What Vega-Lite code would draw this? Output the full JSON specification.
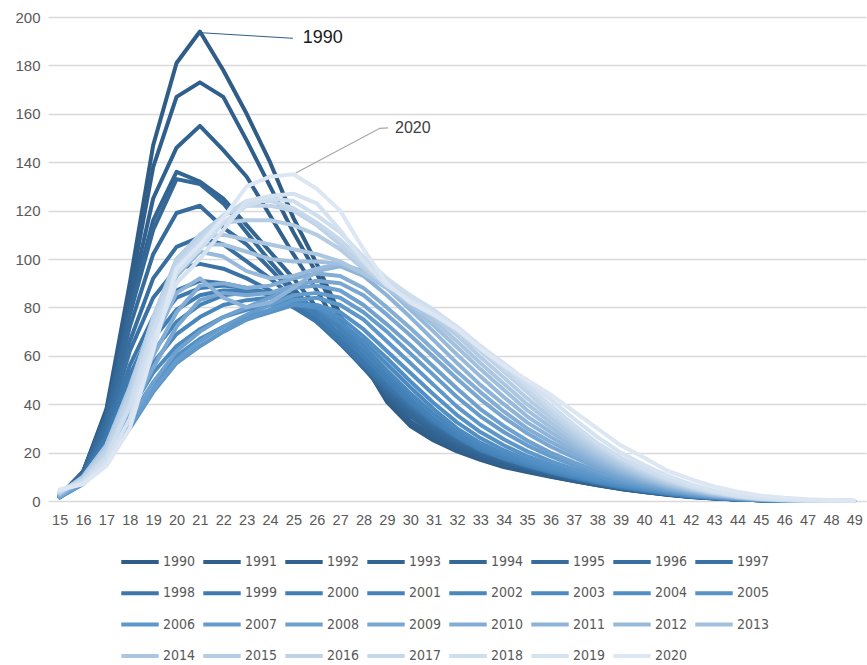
{
"$schema": "https://vega.github.io/schema/vega-lite/v6.json",
"width": 818,
"height": 484,
"autosize": {"type": "none"},
"padding": {"left": 48, "top": 17, "right": 1, "bottom": 164},
"background": "white",
"config": {"view": {"stroke": null}, "font": "Liberation Sans"},
"layer": [
{
"data": {"values": [
{"yr":1990,"age":15,"v":2},{"yr":1990,"age":16,"v":12},{"yr":1990,"age":17,"v":38},{"yr":1990,"age":18,"v":90},{"yr":1990,"age":19,"v":147},{"yr":1990,"age":20,"v":181},{"yr":1990,"age":21,"v":194},{"yr":1990,"age":22,"v":178},{"yr":1990,"age":23,"v":160},{"yr":1990,"age":24,"v":140},{"yr":1990,"age":25,"v":117},{"yr":1990,"age":26,"v":98},{"yr":1990,"age":27,"v":77},{"yr":1990,"age":28,"v":57},{"yr":1990,"age":29,"v":41},{"yr":1990,"age":30,"v":31},{"yr":1990,"age":31,"v":25},{"yr":1990,"age":32,"v":20.5},{"yr":1990,"age":33,"v":17},{"yr":1990,"age":34,"v":14},{"yr":1990,"age":35,"v":12},{"yr":1990,"age":36,"v":10},{"yr":1990,"age":37,"v":8.2},{"yr":1990,"age":38,"v":6.5},{"yr":1990,"age":39,"v":5},{"yr":1990,"age":40,"v":3.7},{"yr":1990,"age":41,"v":2.6},{"yr":1990,"age":42,"v":1.7},{"yr":1990,"age":43,"v":1.05},{"yr":1990,"age":44,"v":0.6},{"yr":1990,"age":45,"v":0.33},{"yr":1990,"age":46,"v":0.17},{"yr":1990,"age":47,"v":0.09},{"yr":1990,"age":48,"v":0.04},{"yr":1990,"age":49,"v":0.02},
{"yr":1991,"age":15,"v":2},{"yr":1991,"age":16,"v":12},{"yr":1991,"age":17,"v":37},{"yr":1991,"age":18,"v":86},{"yr":1991,"age":19,"v":138},{"yr":1991,"age":20,"v":167},{"yr":1991,"age":21,"v":173},{"yr":1991,"age":22,"v":167},{"yr":1991,"age":23,"v":149},{"yr":1991,"age":24,"v":130},{"yr":1991,"age":25,"v":111},{"yr":1991,"age":26,"v":94},{"yr":1991,"age":27,"v":75},{"yr":1991,"age":28,"v":57},{"yr":1991,"age":29,"v":42},{"yr":1991,"age":30,"v":32},{"yr":1991,"age":31,"v":26},{"yr":1991,"age":32,"v":21},{"yr":1991,"age":33,"v":17.5},{"yr":1991,"age":34,"v":14.5},{"yr":1991,"age":35,"v":12.3},{"yr":1991,"age":36,"v":10.2},{"yr":1991,"age":37,"v":8.3},{"yr":1991,"age":38,"v":6.6},{"yr":1991,"age":39,"v":5},{"yr":1991,"age":40,"v":3.7},{"yr":1991,"age":41,"v":2.6},{"yr":1991,"age":42,"v":1.7},{"yr":1991,"age":43,"v":1.05},{"yr":1991,"age":44,"v":0.6},{"yr":1991,"age":45,"v":0.33},{"yr":1991,"age":46,"v":0.17},{"yr":1991,"age":47,"v":0.09},{"yr":1991,"age":48,"v":0.04},{"yr":1991,"age":49,"v":0.02},
{"yr":1992,"age":15,"v":2},{"yr":1992,"age":16,"v":12},{"yr":1992,"age":17,"v":36},{"yr":1992,"age":18,"v":82},{"yr":1992,"age":19,"v":125},{"yr":1992,"age":20,"v":146},{"yr":1992,"age":21,"v":155},{"yr":1992,"age":22,"v":145},{"yr":1992,"age":23,"v":134},{"yr":1992,"age":24,"v":118},{"yr":1992,"age":25,"v":102},{"yr":1992,"age":26,"v":87},{"yr":1992,"age":27,"v":71},{"yr":1992,"age":28,"v":56},{"yr":1992,"age":29,"v":43},{"yr":1992,"age":30,"v":33},{"yr":1992,"age":31,"v":27},{"yr":1992,"age":32,"v":22},{"yr":1992,"age":33,"v":18},{"yr":1992,"age":34,"v":15},{"yr":1992,"age":35,"v":12.6},{"yr":1992,"age":36,"v":10.4},{"yr":1992,"age":37,"v":8.5},{"yr":1992,"age":38,"v":6.7},{"yr":1992,"age":39,"v":5.1},{"yr":1992,"age":40,"v":3.8},{"yr":1992,"age":41,"v":2.7},{"yr":1992,"age":42,"v":1.8},{"yr":1992,"age":43,"v":1.1},{"yr":1992,"age":44,"v":0.62},{"yr":1992,"age":45,"v":0.34},{"yr":1992,"age":46,"v":0.18},{"yr":1992,"age":47,"v":0.09},{"yr":1992,"age":48,"v":0.04},{"yr":1992,"age":49,"v":0.02},
{"yr":1993,"age":15,"v":2},{"yr":1993,"age":16,"v":12},{"yr":1993,"age":17,"v":35},{"yr":1993,"age":18,"v":79},{"yr":1993,"age":19,"v":116},{"yr":1993,"age":20,"v":136},{"yr":1993,"age":21,"v":132},{"yr":1993,"age":22,"v":125},{"yr":1993,"age":23,"v":114},{"yr":1993,"age":24,"v":103},{"yr":1993,"age":25,"v":92},{"yr":1993,"age":26,"v":80},{"yr":1993,"age":27,"v":67},{"yr":1993,"age":28,"v":55},{"yr":1993,"age":29,"v":44},{"yr":1993,"age":30,"v":35},{"yr":1993,"age":31,"v":28.5},{"yr":1993,"age":32,"v":23},{"yr":1993,"age":33,"v":19},{"yr":1993,"age":34,"v":16},{"yr":1993,"age":35,"v":13.3},{"yr":1993,"age":36,"v":11},{"yr":1993,"age":37,"v":8.9},{"yr":1993,"age":38,"v":7},{"yr":1993,"age":39,"v":5.3},{"yr":1993,"age":40,"v":3.9},{"yr":1993,"age":41,"v":2.8},{"yr":1993,"age":42,"v":1.8},{"yr":1993,"age":43,"v":1.1},{"yr":1993,"age":44,"v":0.63},{"yr":1993,"age":45,"v":0.34},{"yr":1993,"age":46,"v":0.18},{"yr":1993,"age":47,"v":0.09},{"yr":1993,"age":48,"v":0.04},{"yr":1993,"age":49,"v":0.02},
{"yr":1994,"age":15,"v":2},{"yr":1994,"age":16,"v":12},{"yr":1994,"age":17,"v":35},{"yr":1994,"age":18,"v":77},{"yr":1994,"age":19,"v":112},{"yr":1994,"age":20,"v":133},{"yr":1994,"age":21,"v":131},{"yr":1994,"age":22,"v":123},{"yr":1994,"age":23,"v":111},{"yr":1994,"age":24,"v":99},{"yr":1994,"age":25,"v":88},{"yr":1994,"age":26,"v":77},{"yr":1994,"age":27,"v":66},{"yr":1994,"age":28,"v":55},{"yr":1994,"age":29,"v":45},{"yr":1994,"age":30,"v":36},{"yr":1994,"age":31,"v":29.5},{"yr":1994,"age":32,"v":24},{"yr":1994,"age":33,"v":19.8},{"yr":1994,"age":34,"v":16.5},{"yr":1994,"age":35,"v":13.7},{"yr":1994,"age":36,"v":11.3},{"yr":1994,"age":37,"v":9.1},{"yr":1994,"age":38,"v":7.1},{"yr":1994,"age":39,"v":5.4},{"yr":1994,"age":40,"v":4},{"yr":1994,"age":41,"v":2.8},{"yr":1994,"age":42,"v":1.9},{"yr":1994,"age":43,"v":1.15},{"yr":1994,"age":44,"v":0.65},{"yr":1994,"age":45,"v":0.35},{"yr":1994,"age":46,"v":0.18},{"yr":1994,"age":47,"v":0.09},{"yr":1994,"age":48,"v":0.04},{"yr":1994,"age":49,"v":0.02},
{"yr":1995,"age":15,"v":2},{"yr":1995,"age":16,"v":11.5},{"yr":1995,"age":17,"v":33},{"yr":1995,"age":18,"v":72},{"yr":1995,"age":19,"v":102},{"yr":1995,"age":20,"v":119},{"yr":1995,"age":21,"v":122},{"yr":1995,"age":22,"v":113},{"yr":1995,"age":23,"v":106},{"yr":1995,"age":24,"v":96},{"yr":1995,"age":25,"v":86},{"yr":1995,"age":26,"v":76},{"yr":1995,"age":27,"v":65},{"yr":1995,"age":28,"v":55},{"yr":1995,"age":29,"v":46},{"yr":1995,"age":30,"v":37.5},{"yr":1995,"age":31,"v":30.5},{"yr":1995,"age":32,"v":24.8},{"yr":1995,"age":33,"v":20.5},{"yr":1995,"age":34,"v":17},{"yr":1995,"age":35,"v":14},{"yr":1995,"age":36,"v":11.5},{"yr":1995,"age":37,"v":9.3},{"yr":1995,"age":38,"v":7.2},{"yr":1995,"age":39,"v":5.5},{"yr":1995,"age":40,"v":4.1},{"yr":1995,"age":41,"v":2.9},{"yr":1995,"age":42,"v":1.9},{"yr":1995,"age":43,"v":1.15},{"yr":1995,"age":44,"v":0.65},{"yr":1995,"age":45,"v":0.35},{"yr":1995,"age":46,"v":0.18},{"yr":1995,"age":47,"v":0.09},{"yr":1995,"age":48,"v":0.04},{"yr":1995,"age":49,"v":0.02},
{"yr":1996,"age":15,"v":2},{"yr":1996,"age":16,"v":11},{"yr":1996,"age":17,"v":31},{"yr":1996,"age":18,"v":66},{"yr":1996,"age":19,"v":92},{"yr":1996,"age":20,"v":105},{"yr":1996,"age":21,"v":109},{"yr":1996,"age":22,"v":106},{"yr":1996,"age":23,"v":99},{"yr":1996,"age":24,"v":92},{"yr":1996,"age":25,"v":84},{"yr":1996,"age":26,"v":75},{"yr":1996,"age":27,"v":66},{"yr":1996,"age":28,"v":56},{"yr":1996,"age":29,"v":47},{"yr":1996,"age":30,"v":38.5},{"yr":1996,"age":31,"v":31.5},{"yr":1996,"age":32,"v":25.5},{"yr":1996,"age":33,"v":21},{"yr":1996,"age":34,"v":17.5},{"yr":1996,"age":35,"v":14.5},{"yr":1996,"age":36,"v":12},{"yr":1996,"age":37,"v":9.5},{"yr":1996,"age":38,"v":7.4},{"yr":1996,"age":39,"v":5.6},{"yr":1996,"age":40,"v":4.1},{"yr":1996,"age":41,"v":2.9},{"yr":1996,"age":42,"v":1.9},{"yr":1996,"age":43,"v":1.2},{"yr":1996,"age":44,"v":0.66},{"yr":1996,"age":45,"v":0.36},{"yr":1996,"age":46,"v":0.18},{"yr":1996,"age":47,"v":0.09},{"yr":1996,"age":48,"v":0.04},{"yr":1996,"age":49,"v":0.02},
{"yr":1997,"age":15,"v":2},{"yr":1997,"age":16,"v":11},{"yr":1997,"age":17,"v":29},{"yr":1997,"age":18,"v":62},{"yr":1997,"age":19,"v":84},{"yr":1997,"age":20,"v":96},{"yr":1997,"age":21,"v":98},{"yr":1997,"age":22,"v":96},{"yr":1997,"age":23,"v":92},{"yr":1997,"age":24,"v":87},{"yr":1997,"age":25,"v":81},{"yr":1997,"age":26,"v":74},{"yr":1997,"age":27,"v":65},{"yr":1997,"age":28,"v":56},{"yr":1997,"age":29,"v":47},{"yr":1997,"age":30,"v":39},{"yr":1997,"age":31,"v":32},{"yr":1997,"age":32,"v":26},{"yr":1997,"age":33,"v":21.3},{"yr":1997,"age":34,"v":17.8},{"yr":1997,"age":35,"v":14.8},{"yr":1997,"age":36,"v":12.2},{"yr":1997,"age":37,"v":9.7},{"yr":1997,"age":38,"v":7.5},{"yr":1997,"age":39,"v":5.7},{"yr":1997,"age":40,"v":4.2},{"yr":1997,"age":41,"v":3},{"yr":1997,"age":42,"v":2},{"yr":1997,"age":43,"v":1.2},{"yr":1997,"age":44,"v":0.68},{"yr":1997,"age":45,"v":0.37},{"yr":1997,"age":46,"v":0.19},{"yr":1997,"age":47,"v":0.1},{"yr":1997,"age":48,"v":0.05},{"yr":1997,"age":49,"v":0.02},
{"yr":1998,"age":15,"v":1.8},{"yr":1998,"age":16,"v":10.5},{"yr":1998,"age":17,"v":27},{"yr":1998,"age":18,"v":56},{"yr":1998,"age":19,"v":76},{"yr":1998,"age":20,"v":87},{"yr":1998,"age":21,"v":91},{"yr":1998,"age":22,"v":90},{"yr":1998,"age":23,"v":88},{"yr":1998,"age":24,"v":85},{"yr":1998,"age":25,"v":80},{"yr":1998,"age":26,"v":74},{"yr":1998,"age":27,"v":66},{"yr":1998,"age":28,"v":57},{"yr":1998,"age":29,"v":48.5},{"yr":1998,"age":30,"v":40},{"yr":1998,"age":31,"v":32.5},{"yr":1998,"age":32,"v":26.5},{"yr":1998,"age":33,"v":21.5},{"yr":1998,"age":34,"v":17.8},{"yr":1998,"age":35,"v":14.8},{"yr":1998,"age":36,"v":12.2},{"yr":1998,"age":37,"v":9.7},{"yr":1998,"age":38,"v":7.5},{"yr":1998,"age":39,"v":5.7},{"yr":1998,"age":40,"v":4.2},{"yr":1998,"age":41,"v":3},{"yr":1998,"age":42,"v":2},{"yr":1998,"age":43,"v":1.2},{"yr":1998,"age":44,"v":0.68},{"yr":1998,"age":45,"v":0.37},{"yr":1998,"age":46,"v":0.19},{"yr":1998,"age":47,"v":0.1},{"yr":1998,"age":48,"v":0.05},{"yr":1998,"age":49,"v":0.02},
{"yr":1999,"age":15,"v":1.8},{"yr":1999,"age":16,"v":10},{"yr":1999,"age":17,"v":26},{"yr":1999,"age":18,"v":52},{"yr":1999,"age":19,"v":72},{"yr":1999,"age":20,"v":84},{"yr":1999,"age":21,"v":88},{"yr":1999,"age":22,"v":89},{"yr":1999,"age":23,"v":88},{"yr":1999,"age":24,"v":86},{"yr":1999,"age":25,"v":82},{"yr":1999,"age":26,"v":76},{"yr":1999,"age":27,"v":68},{"yr":1999,"age":28,"v":59},{"yr":1999,"age":29,"v":49.5},{"yr":1999,"age":30,"v":40.5},{"yr":1999,"age":31,"v":33},{"yr":1999,"age":32,"v":26.5},{"yr":1999,"age":33,"v":21.3},{"yr":1999,"age":34,"v":17.6},{"yr":1999,"age":35,"v":14.6},{"yr":1999,"age":36,"v":12},{"yr":1999,"age":37,"v":9.6},{"yr":1999,"age":38,"v":7.5},{"yr":1999,"age":39,"v":5.7},{"yr":1999,"age":40,"v":4.2},{"yr":1999,"age":41,"v":3},{"yr":1999,"age":42,"v":2},{"yr":1999,"age":43,"v":1.2},{"yr":1999,"age":44,"v":0.68},{"yr":1999,"age":45,"v":0.37},{"yr":1999,"age":46,"v":0.19},{"yr":1999,"age":47,"v":0.1},{"yr":1999,"age":48,"v":0.05},{"yr":1999,"age":49,"v":0.02},
{"yr":2000,"age":15,"v":1.7},{"yr":2000,"age":16,"v":9.5},{"yr":2000,"age":17,"v":24},{"yr":2000,"age":18,"v":48},{"yr":2000,"age":19,"v":67},{"yr":2000,"age":20,"v":79},{"yr":2000,"age":21,"v":85},{"yr":2000,"age":22,"v":87},{"yr":2000,"age":23,"v":87},{"yr":2000,"age":24,"v":86},{"yr":2000,"age":25,"v":83},{"yr":2000,"age":26,"v":77},{"yr":2000,"age":27,"v":69},{"yr":2000,"age":28,"v":60},{"yr":2000,"age":29,"v":50},{"yr":2000,"age":30,"v":41},{"yr":2000,"age":31,"v":33},{"yr":2000,"age":32,"v":26.5},{"yr":2000,"age":33,"v":21},{"yr":2000,"age":34,"v":17.5},{"yr":2000,"age":35,"v":14.5},{"yr":2000,"age":36,"v":12},{"yr":2000,"age":37,"v":9.7},{"yr":2000,"age":38,"v":7.7},{"yr":2000,"age":39,"v":5.9},{"yr":2000,"age":40,"v":4.4},{"yr":2000,"age":41,"v":3.1},{"yr":2000,"age":42,"v":2.1},{"yr":2000,"age":43,"v":1.3},{"yr":2000,"age":44,"v":0.75},{"yr":2000,"age":45,"v":0.4},{"yr":2000,"age":46,"v":0.2},{"yr":2000,"age":47,"v":0.1},{"yr":2000,"age":48,"v":0.05},{"yr":2000,"age":49,"v":0.03},
{"yr":2001,"age":15,"v":1.6},{"yr":2001,"age":16,"v":9},{"yr":2001,"age":17,"v":22},{"yr":2001,"age":18,"v":44},{"yr":2001,"age":19,"v":62},{"yr":2001,"age":20,"v":74},{"yr":2001,"age":21,"v":81},{"yr":2001,"age":22,"v":85},{"yr":2001,"age":23,"v":86},{"yr":2001,"age":24,"v":86},{"yr":2001,"age":25,"v":84},{"yr":2001,"age":26,"v":79},{"yr":2001,"age":27,"v":71},{"yr":2001,"age":28,"v":62},{"yr":2001,"age":29,"v":52},{"yr":2001,"age":30,"v":42.5},{"yr":2001,"age":31,"v":34},{"yr":2001,"age":32,"v":27},{"yr":2001,"age":33,"v":21.5},{"yr":2001,"age":34,"v":17.8},{"yr":2001,"age":35,"v":14.8},{"yr":2001,"age":36,"v":12.2},{"yr":2001,"age":37,"v":9.9},{"yr":2001,"age":38,"v":7.8},{"yr":2001,"age":39,"v":6},{"yr":2001,"age":40,"v":4.5},{"yr":2001,"age":41,"v":3.2},{"yr":2001,"age":42,"v":2.1},{"yr":2001,"age":43,"v":1.3},{"yr":2001,"age":44,"v":0.75},{"yr":2001,"age":45,"v":0.4},{"yr":2001,"age":46,"v":0.2},{"yr":2001,"age":47,"v":0.1},{"yr":2001,"age":48,"v":0.05},{"yr":2001,"age":49,"v":0.03},
{"yr":2002,"age":15,"v":1.6},{"yr":2002,"age":16,"v":8.5},{"yr":2002,"age":17,"v":20},{"yr":2002,"age":18,"v":40},{"yr":2002,"age":19,"v":57},{"yr":2002,"age":20,"v":69},{"yr":2002,"age":21,"v":76},{"yr":2002,"age":22,"v":81},{"yr":2002,"age":23,"v":83},{"yr":2002,"age":24,"v":84},{"yr":2002,"age":25,"v":84},{"yr":2002,"age":26,"v":80},{"yr":2002,"age":27,"v":73},{"yr":2002,"age":28,"v":64},{"yr":2002,"age":29,"v":54},{"yr":2002,"age":30,"v":44.5},{"yr":2002,"age":31,"v":36},{"yr":2002,"age":32,"v":28.5},{"yr":2002,"age":33,"v":22.5},{"yr":2002,"age":34,"v":18.5},{"yr":2002,"age":35,"v":15.3},{"yr":2002,"age":36,"v":12.6},{"yr":2002,"age":37,"v":10.2},{"yr":2002,"age":38,"v":8},{"yr":2002,"age":39,"v":6.2},{"yr":2002,"age":40,"v":4.6},{"yr":2002,"age":41,"v":3.3},{"yr":2002,"age":42,"v":2.2},{"yr":2002,"age":43,"v":1.35},{"yr":2002,"age":44,"v":0.76},{"yr":2002,"age":45,"v":0.4},{"yr":2002,"age":46,"v":0.2},{"yr":2002,"age":47,"v":0.1},{"yr":2002,"age":48,"v":0.05},{"yr":2002,"age":49,"v":0.03},
{"yr":2003,"age":15,"v":1.5},{"yr":2003,"age":16,"v":8},{"yr":2003,"age":17,"v":19},{"yr":2003,"age":18,"v":37},{"yr":2003,"age":19,"v":53},{"yr":2003,"age":20,"v":64},{"yr":2003,"age":21,"v":71},{"yr":2003,"age":22,"v":76},{"yr":2003,"age":23,"v":79},{"yr":2003,"age":24,"v":81},{"yr":2003,"age":25,"v":82},{"yr":2003,"age":26,"v":80},{"yr":2003,"age":27,"v":74},{"yr":2003,"age":28,"v":66},{"yr":2003,"age":29,"v":56.5},{"yr":2003,"age":30,"v":47},{"yr":2003,"age":31,"v":38},{"yr":2003,"age":32,"v":30},{"yr":2003,"age":33,"v":24},{"yr":2003,"age":34,"v":19.5},{"yr":2003,"age":35,"v":16},{"yr":2003,"age":36,"v":13.2},{"yr":2003,"age":37,"v":10.6},{"yr":2003,"age":38,"v":8.3},{"yr":2003,"age":39,"v":6.4},{"yr":2003,"age":40,"v":4.8},{"yr":2003,"age":41,"v":3.4},{"yr":2003,"age":42,"v":2.3},{"yr":2003,"age":43,"v":1.4},{"yr":2003,"age":44,"v":0.8},{"yr":2003,"age":45,"v":0.42},{"yr":2003,"age":46,"v":0.21},{"yr":2003,"age":47,"v":0.1},{"yr":2003,"age":48,"v":0.05},{"yr":2003,"age":49,"v":0.03},
{"yr":2004,"age":15,"v":1.5},{"yr":2004,"age":16,"v":7.5},{"yr":2004,"age":17,"v":18},{"yr":2004,"age":18,"v":34},{"yr":2004,"age":19,"v":49},{"yr":2004,"age":20,"v":60},{"yr":2004,"age":21,"v":67},{"yr":2004,"age":22,"v":72},{"yr":2004,"age":23,"v":76},{"yr":2004,"age":24,"v":79},{"yr":2004,"age":25,"v":81},{"yr":2004,"age":26,"v":80},{"yr":2004,"age":27,"v":76},{"yr":2004,"age":28,"v":68},{"yr":2004,"age":29,"v":59},{"yr":2004,"age":30,"v":49.5},{"yr":2004,"age":31,"v":40.5},{"yr":2004,"age":32,"v":32.5},{"yr":2004,"age":33,"v":26},{"yr":2004,"age":34,"v":21},{"yr":2004,"age":35,"v":17},{"yr":2004,"age":36,"v":13.8},{"yr":2004,"age":37,"v":11.1},{"yr":2004,"age":38,"v":8.7},{"yr":2004,"age":39,"v":6.7},{"yr":2004,"age":40,"v":5},{"yr":2004,"age":41,"v":3.6},{"yr":2004,"age":42,"v":2.4},{"yr":2004,"age":43,"v":1.5},{"yr":2004,"age":44,"v":0.85},{"yr":2004,"age":45,"v":0.45},{"yr":2004,"age":46,"v":0.22},{"yr":2004,"age":47,"v":0.11},{"yr":2004,"age":48,"v":0.05},{"yr":2004,"age":49,"v":0.03},
{"yr":2005,"age":15,"v":1.5},{"yr":2005,"age":16,"v":7},{"yr":2005,"age":17,"v":17},{"yr":2005,"age":18,"v":32},{"yr":2005,"age":19,"v":47},{"yr":2005,"age":20,"v":58},{"yr":2005,"age":21,"v":64},{"yr":2005,"age":22,"v":70},{"yr":2005,"age":23,"v":75},{"yr":2005,"age":24,"v":78},{"yr":2005,"age":25,"v":81},{"yr":2005,"age":26,"v":81},{"yr":2005,"age":27,"v":78},{"yr":2005,"age":28,"v":71},{"yr":2005,"age":29,"v":62},{"yr":2005,"age":30,"v":53},{"yr":2005,"age":31,"v":44},{"yr":2005,"age":32,"v":35.5},{"yr":2005,"age":33,"v":28.5},{"yr":2005,"age":34,"v":23},{"yr":2005,"age":35,"v":18.5},{"yr":2005,"age":36,"v":15},{"yr":2005,"age":37,"v":12},{"yr":2005,"age":38,"v":9.4},{"yr":2005,"age":39,"v":7.2},{"yr":2005,"age":40,"v":5.4},{"yr":2005,"age":41,"v":3.8},{"yr":2005,"age":42,"v":2.5},{"yr":2005,"age":43,"v":1.6},{"yr":2005,"age":44,"v":0.9},{"yr":2005,"age":45,"v":0.47},{"yr":2005,"age":46,"v":0.23},{"yr":2005,"age":47,"v":0.11},{"yr":2005,"age":48,"v":0.05},{"yr":2005,"age":49,"v":0.03},
{"yr":2006,"age":15,"v":1.5},{"yr":2006,"age":16,"v":7},{"yr":2006,"age":17,"v":16},{"yr":2006,"age":18,"v":30},{"yr":2006,"age":19,"v":45},{"yr":2006,"age":20,"v":57},{"yr":2006,"age":21,"v":64},{"yr":2006,"age":22,"v":70},{"yr":2006,"age":23,"v":75},{"yr":2006,"age":24,"v":79},{"yr":2006,"age":25,"v":83},{"yr":2006,"age":26,"v":84},{"yr":2006,"age":27,"v":81},{"yr":2006,"age":28,"v":75},{"yr":2006,"age":29,"v":66},{"yr":2006,"age":30,"v":57},{"yr":2006,"age":31,"v":48},{"yr":2006,"age":32,"v":39},{"yr":2006,"age":33,"v":31.5},{"yr":2006,"age":34,"v":25.5},{"yr":2006,"age":35,"v":20.5},{"yr":2006,"age":36,"v":16.5},{"yr":2006,"age":37,"v":13.2},{"yr":2006,"age":38,"v":10.3},{"yr":2006,"age":39,"v":7.8},{"yr":2006,"age":40,"v":5.8},{"yr":2006,"age":41,"v":4.1},{"yr":2006,"age":42,"v":2.7},{"yr":2006,"age":43,"v":1.7},{"yr":2006,"age":44,"v":0.95},{"yr":2006,"age":45,"v":0.5},{"yr":2006,"age":46,"v":0.25},{"yr":2006,"age":47,"v":0.12},{"yr":2006,"age":48,"v":0.06},{"yr":2006,"age":49,"v":0.03},
{"yr":2007,"age":15,"v":1.6},{"yr":2007,"age":16,"v":7.5},{"yr":2007,"age":17,"v":17},{"yr":2007,"age":18,"v":31},{"yr":2007,"age":19,"v":46},{"yr":2007,"age":20,"v":58},{"yr":2007,"age":21,"v":66},{"yr":2007,"age":22,"v":72},{"yr":2007,"age":23,"v":77},{"yr":2007,"age":24,"v":81},{"yr":2007,"age":25,"v":85},{"yr":2007,"age":26,"v":86},{"yr":2007,"age":27,"v":84},{"yr":2007,"age":28,"v":78},{"yr":2007,"age":29,"v":70},{"yr":2007,"age":30,"v":61},{"yr":2007,"age":31,"v":52},{"yr":2007,"age":32,"v":43},{"yr":2007,"age":33,"v":35},{"yr":2007,"age":34,"v":28.5},{"yr":2007,"age":35,"v":23},{"yr":2007,"age":36,"v":18.5},{"yr":2007,"age":37,"v":14.7},{"yr":2007,"age":38,"v":11.4},{"yr":2007,"age":39,"v":8.6},{"yr":2007,"age":40,"v":6.3},{"yr":2007,"age":41,"v":4.4},{"yr":2007,"age":42,"v":2.9},{"yr":2007,"age":43,"v":1.8},{"yr":2007,"age":44,"v":1},{"yr":2007,"age":45,"v":0.53},{"yr":2007,"age":46,"v":0.26},{"yr":2007,"age":47,"v":0.12},{"yr":2007,"age":48,"v":0.06},{"yr":2007,"age":49,"v":0.03},
{"yr":2008,"age":15,"v":1.8},{"yr":2008,"age":16,"v":8},{"yr":2008,"age":17,"v":18},{"yr":2008,"age":18,"v":33},{"yr":2008,"age":19,"v":49},{"yr":2008,"age":20,"v":62},{"yr":2008,"age":21,"v":70},{"yr":2008,"age":22,"v":76},{"yr":2008,"age":23,"v":80},{"yr":2008,"age":24,"v":84},{"yr":2008,"age":25,"v":88},{"yr":2008,"age":26,"v":89},{"yr":2008,"age":27,"v":87},{"yr":2008,"age":28,"v":81},{"yr":2008,"age":29,"v":73},{"yr":2008,"age":30,"v":64.5},{"yr":2008,"age":31,"v":55.5},{"yr":2008,"age":32,"v":46.5},{"yr":2008,"age":33,"v":38},{"yr":2008,"age":34,"v":31},{"yr":2008,"age":35,"v":25},{"yr":2008,"age":36,"v":20},{"yr":2008,"age":37,"v":16},{"yr":2008,"age":38,"v":12.3},{"yr":2008,"age":39,"v":9.3},{"yr":2008,"age":40,"v":6.8},{"yr":2008,"age":41,"v":4.7},{"yr":2008,"age":42,"v":3.1},{"yr":2008,"age":43,"v":1.9},{"yr":2008,"age":44,"v":1.1},{"yr":2008,"age":45,"v":0.56},{"yr":2008,"age":46,"v":0.27},{"yr":2008,"age":47,"v":0.13},{"yr":2008,"age":48,"v":0.06},{"yr":2008,"age":49,"v":0.03},
{"yr":2009,"age":15,"v":2},{"yr":2009,"age":16,"v":8.5},{"yr":2009,"age":17,"v":19},{"yr":2009,"age":18,"v":36},{"yr":2009,"age":19,"v":55},{"yr":2009,"age":20,"v":72},{"yr":2009,"age":21,"v":83},{"yr":2009,"age":22,"v":86},{"yr":2009,"age":23,"v":85},{"yr":2009,"age":24,"v":86},{"yr":2009,"age":25,"v":89},{"yr":2009,"age":26,"v":91},{"yr":2009,"age":27,"v":90},{"yr":2009,"age":28,"v":85},{"yr":2009,"age":29,"v":77},{"yr":2009,"age":30,"v":68.5},{"yr":2009,"age":31,"v":59.5},{"yr":2009,"age":32,"v":50.5},{"yr":2009,"age":33,"v":42},{"yr":2009,"age":34,"v":34.5},{"yr":2009,"age":35,"v":28},{"yr":2009,"age":36,"v":22.5},{"yr":2009,"age":37,"v":18},{"yr":2009,"age":38,"v":13.8},{"yr":2009,"age":39,"v":10.3},{"yr":2009,"age":40,"v":7.5},{"yr":2009,"age":41,"v":5.2},{"yr":2009,"age":42,"v":3.4},{"yr":2009,"age":43,"v":2.1},{"yr":2009,"age":44,"v":1.2},{"yr":2009,"age":45,"v":0.6},{"yr":2009,"age":46,"v":0.3},{"yr":2009,"age":47,"v":0.14},{"yr":2009,"age":48,"v":0.07},{"yr":2009,"age":49,"v":0.04},
{"yr":2010,"age":15,"v":2.2},{"yr":2010,"age":16,"v":9},{"yr":2010,"age":17,"v":20},{"yr":2010,"age":18,"v":39},{"yr":2010,"age":19,"v":60},{"yr":2010,"age":20,"v":78},{"yr":2010,"age":21,"v":89},{"yr":2010,"age":22,"v":90},{"yr":2010,"age":23,"v":88},{"yr":2010,"age":24,"v":89},{"yr":2010,"age":25,"v":92},{"yr":2010,"age":26,"v":94},{"yr":2010,"age":27,"v":93},{"yr":2010,"age":28,"v":88},{"yr":2010,"age":29,"v":80},{"yr":2010,"age":30,"v":71.5},{"yr":2010,"age":31,"v":62.5},{"yr":2010,"age":32,"v":53.5},{"yr":2010,"age":33,"v":45},{"yr":2010,"age":34,"v":37},{"yr":2010,"age":35,"v":30},{"yr":2010,"age":36,"v":24.5},{"yr":2010,"age":37,"v":19.5},{"yr":2010,"age":38,"v":15},{"yr":2010,"age":39,"v":11.2},{"yr":2010,"age":40,"v":8.1},{"yr":2010,"age":41,"v":5.6},{"yr":2010,"age":42,"v":3.7},{"yr":2010,"age":43,"v":2.3},{"yr":2010,"age":44,"v":1.3},{"yr":2010,"age":45,"v":0.65},{"yr":2010,"age":46,"v":0.32},{"yr":2010,"age":47,"v":0.15},{"yr":2010,"age":48,"v":0.07},{"yr":2010,"age":49,"v":0.04},
{"yr":2011,"age":15,"v":2.5},{"yr":2011,"age":16,"v":9.5},{"yr":2011,"age":17,"v":22},{"yr":2011,"age":18,"v":43},{"yr":2011,"age":19,"v":66},{"yr":2011,"age":20,"v":86},{"yr":2011,"age":21,"v":92},{"yr":2011,"age":22,"v":84},{"yr":2011,"age":23,"v":80},{"yr":2011,"age":24,"v":82},{"yr":2011,"age":25,"v":88},{"yr":2011,"age":26,"v":95},{"yr":2011,"age":27,"v":97},{"yr":2011,"age":28,"v":93},{"yr":2011,"age":29,"v":85},{"yr":2011,"age":30,"v":76},{"yr":2011,"age":31,"v":66.5},{"yr":2011,"age":32,"v":57},{"yr":2011,"age":33,"v":48},{"yr":2011,"age":34,"v":40},{"yr":2011,"age":35,"v":32.5},{"yr":2011,"age":36,"v":26.5},{"yr":2011,"age":37,"v":21},{"yr":2011,"age":38,"v":16.2},{"yr":2011,"age":39,"v":12},{"yr":2011,"age":40,"v":8.7},{"yr":2011,"age":41,"v":6},{"yr":2011,"age":42,"v":4},{"yr":2011,"age":43,"v":2.4},{"yr":2011,"age":44,"v":1.35},{"yr":2011,"age":45,"v":0.7},{"yr":2011,"age":46,"v":0.34},{"yr":2011,"age":47,"v":0.16},{"yr":2011,"age":48,"v":0.08},{"yr":2011,"age":49,"v":0.04},
{"yr":2012,"age":15,"v":2.8},{"yr":2012,"age":16,"v":10},{"yr":2012,"age":17,"v":23},{"yr":2012,"age":18,"v":46},{"yr":2012,"age":19,"v":72},{"yr":2012,"age":20,"v":93},{"yr":2012,"age":21,"v":103},{"yr":2012,"age":22,"v":101},{"yr":2012,"age":23,"v":95},{"yr":2012,"age":24,"v":92},{"yr":2012,"age":25,"v":93},{"yr":2012,"age":26,"v":96},{"yr":2012,"age":27,"v":98},{"yr":2012,"age":28,"v":95},{"yr":2012,"age":29,"v":88},{"yr":2012,"age":30,"v":79},{"yr":2012,"age":31,"v":70},{"yr":2012,"age":32,"v":60.5},{"yr":2012,"age":33,"v":51.5},{"yr":2012,"age":34,"v":43},{"yr":2012,"age":35,"v":35},{"yr":2012,"age":36,"v":28.5},{"yr":2012,"age":37,"v":22.5},{"yr":2012,"age":38,"v":17.3},{"yr":2012,"age":39,"v":12.9},{"yr":2012,"age":40,"v":9.3},{"yr":2012,"age":41,"v":6.4},{"yr":2012,"age":42,"v":4.2},{"yr":2012,"age":43,"v":2.6},{"yr":2012,"age":44,"v":1.45},{"yr":2012,"age":45,"v":0.74},{"yr":2012,"age":46,"v":0.36},{"yr":2012,"age":47,"v":0.17},{"yr":2012,"age":48,"v":0.08},{"yr":2012,"age":49,"v":0.04},
{"yr":2013,"age":15,"v":3},{"yr":2013,"age":16,"v":10},{"yr":2013,"age":17,"v":23},{"yr":2013,"age":18,"v":47},{"yr":2013,"age":19,"v":74},{"yr":2013,"age":20,"v":96},{"yr":2013,"age":21,"v":106},{"yr":2013,"age":22,"v":106},{"yr":2013,"age":23,"v":103},{"yr":2013,"age":24,"v":100},{"yr":2013,"age":25,"v":99},{"yr":2013,"age":26,"v":99},{"yr":2013,"age":27,"v":98},{"yr":2013,"age":28,"v":94},{"yr":2013,"age":29,"v":88},{"yr":2013,"age":30,"v":80.5},{"yr":2013,"age":31,"v":72.5},{"yr":2013,"age":32,"v":63.5},{"yr":2013,"age":33,"v":54.5},{"yr":2013,"age":34,"v":46},{"yr":2013,"age":35,"v":37.5},{"yr":2013,"age":36,"v":30.5},{"yr":2013,"age":37,"v":24},{"yr":2013,"age":38,"v":18.5},{"yr":2013,"age":39,"v":13.8},{"yr":2013,"age":40,"v":10},{"yr":2013,"age":41,"v":6.9},{"yr":2013,"age":42,"v":4.5},{"yr":2013,"age":43,"v":2.8},{"yr":2013,"age":44,"v":1.55},{"yr":2013,"age":45,"v":0.78},{"yr":2013,"age":46,"v":0.38},{"yr":2013,"age":47,"v":0.18},{"yr":2013,"age":48,"v":0.09},{"yr":2013,"age":49,"v":0.05},
{"yr":2014,"age":15,"v":3.2},{"yr":2014,"age":16,"v":10},{"yr":2014,"age":17,"v":23},{"yr":2014,"age":18,"v":47},{"yr":2014,"age":19,"v":75},{"yr":2014,"age":20,"v":98},{"yr":2014,"age":21,"v":109},{"yr":2014,"age":22,"v":110},{"yr":2014,"age":23,"v":108},{"yr":2014,"age":24,"v":106},{"yr":2014,"age":25,"v":104},{"yr":2014,"age":26,"v":102},{"yr":2014,"age":27,"v":99},{"yr":2014,"age":28,"v":94},{"yr":2014,"age":29,"v":88},{"yr":2014,"age":30,"v":81.5},{"yr":2014,"age":31,"v":74.5},{"yr":2014,"age":32,"v":66},{"yr":2014,"age":33,"v":57},{"yr":2014,"age":34,"v":48.5},{"yr":2014,"age":35,"v":40},{"yr":2014,"age":36,"v":32.5},{"yr":2014,"age":37,"v":25.5},{"yr":2014,"age":38,"v":19.6},{"yr":2014,"age":39,"v":14.6},{"yr":2014,"age":40,"v":10.5},{"yr":2014,"age":41,"v":7.3},{"yr":2014,"age":42,"v":4.8},{"yr":2014,"age":43,"v":3},{"yr":2014,"age":44,"v":1.65},{"yr":2014,"age":45,"v":0.82},{"yr":2014,"age":46,"v":0.4},{"yr":2014,"age":47,"v":0.19},{"yr":2014,"age":48,"v":0.09},{"yr":2014,"age":49,"v":0.05},
{"yr":2015,"age":15,"v":3.5},{"yr":2015,"age":16,"v":9.5},{"yr":2015,"age":17,"v":22},{"yr":2015,"age":18,"v":46},{"yr":2015,"age":19,"v":76},{"yr":2015,"age":20,"v":100},{"yr":2015,"age":21,"v":110},{"yr":2015,"age":22,"v":115},{"yr":2015,"age":23,"v":116},{"yr":2015,"age":24,"v":116},{"yr":2015,"age":25,"v":114},{"yr":2015,"age":26,"v":110},{"yr":2015,"age":27,"v":104},{"yr":2015,"age":28,"v":96},{"yr":2015,"age":29,"v":89},{"yr":2015,"age":30,"v":82.5},{"yr":2015,"age":31,"v":76},{"yr":2015,"age":32,"v":68.5},{"yr":2015,"age":33,"v":59.5},{"yr":2015,"age":34,"v":51},{"yr":2015,"age":35,"v":42.5},{"yr":2015,"age":36,"v":34.5},{"yr":2015,"age":37,"v":27},{"yr":2015,"age":38,"v":20.8},{"yr":2015,"age":39,"v":15.5},{"yr":2015,"age":40,"v":11.2},{"yr":2015,"age":41,"v":7.8},{"yr":2015,"age":42,"v":5.1},{"yr":2015,"age":43,"v":3.2},{"yr":2015,"age":44,"v":1.75},{"yr":2015,"age":45,"v":0.86},{"yr":2015,"age":46,"v":0.42},{"yr":2015,"age":47,"v":0.2},{"yr":2015,"age":48,"v":0.1},{"yr":2015,"age":49,"v":0.05},
{"yr":2016,"age":15,"v":3.7},{"yr":2016,"age":16,"v":9},{"yr":2016,"age":17,"v":21},{"yr":2016,"age":18,"v":44},{"yr":2016,"age":19,"v":75},{"yr":2016,"age":20,"v":99},{"yr":2016,"age":21,"v":110},{"yr":2016,"age":22,"v":118},{"yr":2016,"age":23,"v":122},{"yr":2016,"age":24,"v":122},{"yr":2016,"age":25,"v":120},{"yr":2016,"age":26,"v":114},{"yr":2016,"age":27,"v":106},{"yr":2016,"age":28,"v":97},{"yr":2016,"age":29,"v":89},{"yr":2016,"age":30,"v":83},{"yr":2016,"age":31,"v":77},{"yr":2016,"age":32,"v":70},{"yr":2016,"age":33,"v":62},{"yr":2016,"age":34,"v":53.5},{"yr":2016,"age":35,"v":45},{"yr":2016,"age":36,"v":36.5},{"yr":2016,"age":37,"v":28.5},{"yr":2016,"age":38,"v":22},{"yr":2016,"age":39,"v":16.5},{"yr":2016,"age":40,"v":12},{"yr":2016,"age":41,"v":8.3},{"yr":2016,"age":42,"v":5.5},{"yr":2016,"age":43,"v":3.4},{"yr":2016,"age":44,"v":1.9},{"yr":2016,"age":45,"v":0.92},{"yr":2016,"age":46,"v":0.45},{"yr":2016,"age":47,"v":0.21},{"yr":2016,"age":48,"v":0.1},{"yr":2016,"age":49,"v":0.05},
{"yr":2017,"age":15,"v":3.9},{"yr":2017,"age":16,"v":8.5},{"yr":2017,"age":17,"v":19},{"yr":2017,"age":18,"v":41},{"yr":2017,"age":19,"v":73},{"yr":2017,"age":20,"v":97},{"yr":2017,"age":21,"v":108},{"yr":2017,"age":22,"v":118},{"yr":2017,"age":23,"v":124},{"yr":2017,"age":24,"v":124},{"yr":2017,"age":25,"v":121},{"yr":2017,"age":26,"v":115},{"yr":2017,"age":27,"v":108},{"yr":2017,"age":28,"v":99},{"yr":2017,"age":29,"v":91},{"yr":2017,"age":30,"v":84},{"yr":2017,"age":31,"v":78},{"yr":2017,"age":32,"v":71},{"yr":2017,"age":33,"v":63},{"yr":2017,"age":34,"v":55},{"yr":2017,"age":35,"v":46.5},{"yr":2017,"age":36,"v":38},{"yr":2017,"age":37,"v":30},{"yr":2017,"age":38,"v":23},{"yr":2017,"age":39,"v":17.3},{"yr":2017,"age":40,"v":12.6},{"yr":2017,"age":41,"v":8.8},{"yr":2017,"age":42,"v":5.8},{"yr":2017,"age":43,"v":3.6},{"yr":2017,"age":44,"v":2},{"yr":2017,"age":45,"v":0.97},{"yr":2017,"age":46,"v":0.47},{"yr":2017,"age":47,"v":0.22},{"yr":2017,"age":48,"v":0.1},{"yr":2017,"age":49,"v":0.05},
{"yr":2018,"age":15,"v":4.2},{"yr":2018,"age":16,"v":8},{"yr":2018,"age":17,"v":18},{"yr":2018,"age":18,"v":39},{"yr":2018,"age":19,"v":70},{"yr":2018,"age":20,"v":94},{"yr":2018,"age":21,"v":104},{"yr":2018,"age":22,"v":115},{"yr":2018,"age":23,"v":122},{"yr":2018,"age":24,"v":125},{"yr":2018,"age":25,"v":124},{"yr":2018,"age":26,"v":118},{"yr":2018,"age":27,"v":111},{"yr":2018,"age":28,"v":101},{"yr":2018,"age":29,"v":92},{"yr":2018,"age":30,"v":85},{"yr":2018,"age":31,"v":79},{"yr":2018,"age":32,"v":72},{"yr":2018,"age":33,"v":64},{"yr":2018,"age":34,"v":56},{"yr":2018,"age":35,"v":48},{"yr":2018,"age":36,"v":39.5},{"yr":2018,"age":37,"v":31.5},{"yr":2018,"age":38,"v":24},{"yr":2018,"age":39,"v":18},{"yr":2018,"age":40,"v":13.3},{"yr":2018,"age":41,"v":9.3},{"yr":2018,"age":42,"v":6.2},{"yr":2018,"age":43,"v":3.8},{"yr":2018,"age":44,"v":2.1},{"yr":2018,"age":45,"v":1.05},{"yr":2018,"age":46,"v":0.5},{"yr":2018,"age":47,"v":0.24},{"yr":2018,"age":48,"v":0.12},{"yr":2018,"age":49,"v":0.06},
{"yr":2019,"age":15,"v":4.5},{"yr":2019,"age":16,"v":7},{"yr":2019,"age":17,"v":16},{"yr":2019,"age":18,"v":34},{"yr":2019,"age":19,"v":66},{"yr":2019,"age":20,"v":90},{"yr":2019,"age":21,"v":100},{"yr":2019,"age":22,"v":112},{"yr":2019,"age":23,"v":124},{"yr":2019,"age":24,"v":126},{"yr":2019,"age":25,"v":127},{"yr":2019,"age":26,"v":123},{"yr":2019,"age":27,"v":112},{"yr":2019,"age":28,"v":99},{"yr":2019,"age":29,"v":89},{"yr":2019,"age":30,"v":83},{"yr":2019,"age":31,"v":78},{"yr":2019,"age":32,"v":72},{"yr":2019,"age":33,"v":64},{"yr":2019,"age":34,"v":57},{"yr":2019,"age":35,"v":49.5},{"yr":2019,"age":36,"v":42},{"yr":2019,"age":37,"v":34},{"yr":2019,"age":38,"v":26.5},{"yr":2019,"age":39,"v":20},{"yr":2019,"age":40,"v":15},{"yr":2019,"age":41,"v":10.5},{"yr":2019,"age":42,"v":7},{"yr":2019,"age":43,"v":4.3},{"yr":2019,"age":44,"v":2.4},{"yr":2019,"age":45,"v":1.2},{"yr":2019,"age":46,"v":0.6},{"yr":2019,"age":47,"v":0.28},{"yr":2019,"age":48,"v":0.14},{"yr":2019,"age":49,"v":0.07},
{"yr":2020,"age":15,"v":4.8},{"yr":2020,"age":16,"v":7},{"yr":2020,"age":17,"v":14.5},{"yr":2020,"age":18,"v":30},{"yr":2020,"age":19,"v":62},{"yr":2020,"age":20,"v":96},{"yr":2020,"age":21,"v":106},{"yr":2020,"age":22,"v":117},{"yr":2020,"age":23,"v":130},{"yr":2020,"age":24,"v":134},{"yr":2020,"age":25,"v":135},{"yr":2020,"age":26,"v":129},{"yr":2020,"age":27,"v":120},{"yr":2020,"age":28,"v":104},{"yr":2020,"age":29,"v":90},{"yr":2020,"age":30,"v":82},{"yr":2020,"age":31,"v":77},{"yr":2020,"age":32,"v":71},{"yr":2020,"age":33,"v":63},{"yr":2020,"age":34,"v":56},{"yr":2020,"age":35,"v":50},{"yr":2020,"age":36,"v":44},{"yr":2020,"age":37,"v":37},{"yr":2020,"age":38,"v":30},{"yr":2020,"age":39,"v":23},{"yr":2020,"age":40,"v":18},{"yr":2020,"age":41,"v":12.5},{"yr":2020,"age":42,"v":9},{"yr":2020,"age":43,"v":6},{"yr":2020,"age":44,"v":3.8},{"yr":2020,"age":45,"v":2.2},{"yr":2020,"age":46,"v":1.3},{"yr":2020,"age":47,"v":0.7},{"yr":2020,"age":48,"v":0.4},{"yr":2020,"age":49,"v":0.25}
]},
"mark": {"type": "line", "strokeWidth": 4, "strokeJoin": "round", "strokeCap": "round"},
"encoding": {
"x": {"field": "age", "type": "quantitative", "scale": {"domain": [14.5, 49.5], "nice": false, "zero": false},
"axis": {"values": [15,16,17,18,19,20,21,22,23,24,25,26,27,28,29,30,31,32,33,34,35,36,37,38,39,40,41,42,43,44,45,46,47,48,49], "tickCount": 40, "grid": false, "ticks": false, "domain": false, "labelFontSize": 14.5, "labelColor": "#595959", "labelPadding": 12, "labelFont": "Liberation Sans", "title": null, "labelOverlap": false}},
"y": {"field": "v", "type": "quantitative", "scale": {"domain": [0, 200], "nice": false},
"axis": {"values": [0,20,40,60,80,100,120,140,160,180,200], "tickCount": 12, "grid": true, "gridColor": "#d9d9d9", "gridWidth": 1.3, "ticks": false, "domain": false, "labelFontSize": 15, "labelColor": "#595959", "labelPadding": 8, "labelFont": "Liberation Sans", "title": null}},
"color": {"field": "yr", "type": "ordinal",
"scale": {"domain": [1990,1991,1992,1993,1994,1995,1996,1997,1998,1999,2000,2001,2002,2003,2004,2005,2006,2007,2008,2009,2010,2011,2012,2013,2014,2015,2016,2017,2018,2019,2020],
"range": ["#2f5d87","#305f8b","#31628f","#336593","#346897","#366b9b","#386ea0","#3a72a5","#3c76aa","#3e7aaf","#417eb4","#4482b8","#4886bc","#4c8ac0","#518ec4","#5792c7","#5e97ca","#669ccc","#6fa1cf","#79a7d2","#83add5","#8db3d8","#97b9db","#a1c0de","#abc6e1","#b5cde4","#bed3e8","#c6d8eb","#cedeee","#d5e2f0","#dce7f3"]},
"legend": {"title": null, "orient": "none", "legendX": 71, "legendY": 524, "direction": "horizontal", "columns": 8, "symbolLimit": 0, "symbolType": "stroke", "symbolSize": 1400, "symbolStrokeWidth": 4, "labelFontSize": 14, "labelFont": "DejaVu Sans Condensed, sans-serif", "labelColor": "#595959", "labelOffset": 2, "columnPadding": -1, "rowPadding": 2.3, "padding": 0, "gridAlign": "each"}},
"order": {"field": "age", "type": "quantitative"}
}
},
{
"data": {"values": [{"age": 21.05, "v": 193.5}, {"age": 24.98, "v": 191.2}]},
"mark": {"type": "line", "color": "#2f5d87", "strokeWidth": 1},
"encoding": {"x": {"field": "age", "type": "quantitative"}, "y": {"field": "v", "type": "quantitative"}}
},
{
"data": {"values": [{"age": 25.4, "v": 191.2, "label": "1990"}]},
"mark": {"type": "text", "align": "left", "baseline": "middle", "fontSize": 18, "color": "#1a1a1a", "font": "Liberation Sans"},
"encoding": {"x": {"field": "age", "type": "quantitative"}, "y": {"field": "v", "type": "quantitative"}, "text": {"field": "label"}}
},
{
"data": {"values": [{"k": 1, "age": 25.1, "v": 135.5}, {"k": 2, "age": 28.7, "v": 154}, {"k": 3, "age": 29.05, "v": 154.2}]},
"mark": {"type": "line", "color": "#a6a6a6", "strokeWidth": 1.2},
"encoding": {"x": {"field": "age", "type": "quantitative"}, "y": {"field": "v", "type": "quantitative"}, "order": {"field": "k"}}
},
{
"data": {"values": [{"age": 29.35, "v": 154, "label": "2020"}]},
"mark": {"type": "text", "align": "left", "baseline": "middle", "fontSize": 16, "color": "#404040", "font": "Liberation Sans"},
"encoding": {"x": {"field": "age", "type": "quantitative"}, "y": {"field": "v", "type": "quantitative"}, "text": {"field": "label"}}
}
]
}
